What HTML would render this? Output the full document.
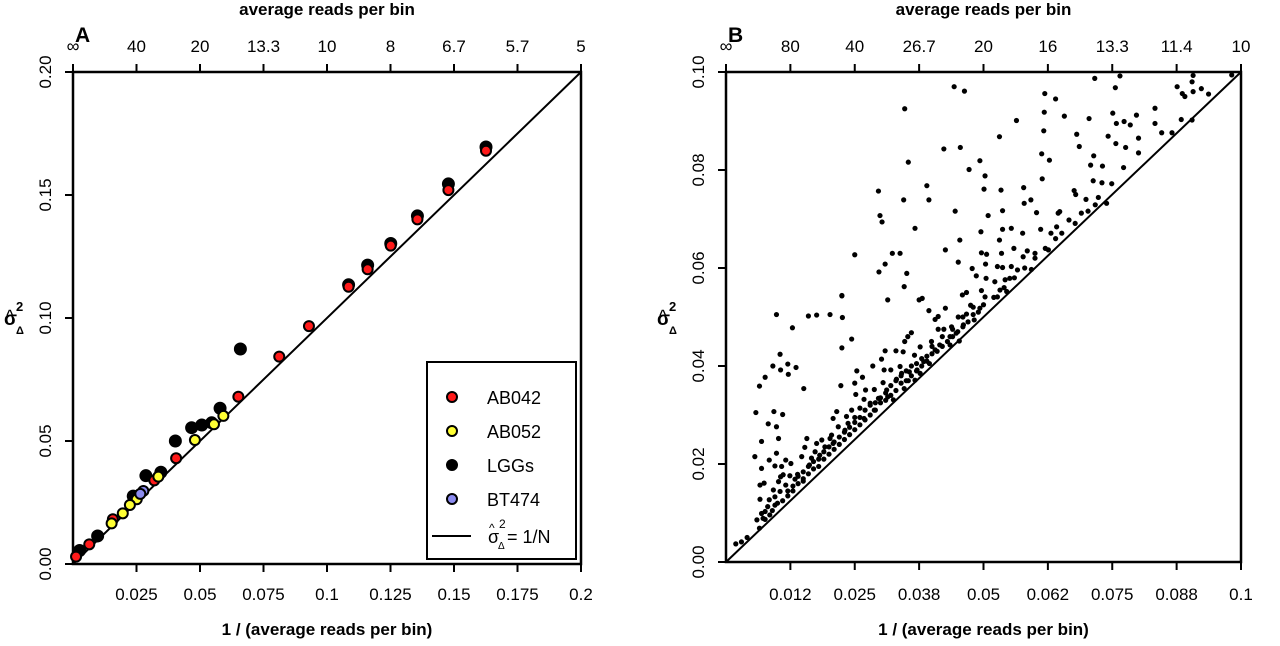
<!DOCTYPE html>
<html><head><meta charset="utf-8"><style>
html,body{margin:0;padding:0;background:#fff}
svg text{font-family:"Liberation Sans",Arial,sans-serif;fill:#000}
</style></head><body>
<svg id="chart" width="1280" height="641" viewBox="0 0 1280 641" xmlns="http://www.w3.org/2000/svg"></svg>
<script>
// Panel A data
const aTopLabels=["∞","40","20","13.3","10","8","6.7","5.7","5"];
const aXTicks=[0.025,0.05,0.075,0.1,0.125,0.15,0.175,0.2];
const aXTickLabels=["0.025","0.05","0.075","0.1","0.125","0.15","0.175","0.2"];
const aYTicks=[0,0.05,0.1,0.15,0.2];
const aYTickLabels=["0.00","0.05","0.10","0.15","0.20"];
const lggX=[0.1626,0.1478,0.1356,0.1251,0.116,0.1085,0.0659,0.0579,0.0467,0.0507,0.0546,0.0403,0.0287,0.0346,0.0097,0.0026,0.0237];
const lggY=[0.1695,0.1545,0.1415,0.1303,0.1215,0.1135,0.0874,0.0633,0.0554,0.0565,0.0574,0.05,0.0359,0.0373,0.0114,0.0055,0.0276];
const ab042X=[0.1626,0.1478,0.1356,0.1251,0.116,0.1085,0.0929,0.0812,0.0651,0.0406,0.0157,0.0064,0.0012,0.032];
const ab042Y=[0.168,0.152,0.1401,0.1294,0.1198,0.1127,0.0967,0.0843,0.068,0.043,0.0182,0.008,0.003,0.034];
const ab052X=[0.0592,0.0555,0.048,0.0336,0.0251,0.0224,0.0196,0.0152];
const ab052Y=[0.0602,0.0568,0.0504,0.0355,0.0263,0.024,0.0206,0.0165];
const bt474X=[0.0277,0.0265];
const bt474Y=[0.0297,0.0285];
// Panel B data
const bTopLabels=["∞","80","40","26.7","20","16","13.3","11.4","10"];
const bXTicks=[0.0125,0.025,0.0375,0.05,0.0625,0.075,0.0875,0.1];
const bXTickLabels=["0.012","0.025","0.038","0.05","0.062","0.075","0.088","0.1"];
const bYTicks=[0,0.02,0.04,0.06,0.08,0.1];
const bYTickLabels=["0.00","0.02","0.04","0.06","0.08","0.10"];
const bX=[.0443,.0463,.0347,.0354,.0423,.0455,.0472,.0493,.0503,.0501,.0531,.0564,.0619,.0640,.0618,.0617,.0613,.0628,.0614,.0657,.0681,.0686,.0705,.0716,.0756,.0765,.0714,.0708,.0731,.0713,.0730,.0751,.0758,.0773,.0785,.0797,.0742,.0757,.0776,.0801,.0801,.0772,.0749,.0833,.0833,.0846,.0866,.0884,.0876,.0886,.0891,.0905,.0907,.0907,.0923,.0937,.0905,.0982,.0739,.0723,.0699,.0679,.0676,.0690,.0703,.0717,.0678,.0666,.0648,.0645,.0642,.0652,.0631,.0626,.0600,.0603,.0592,.0578,.0579,.0611,.0576,.0585,.0577,.0559,.0554,.0537,.0534,.0537,.0531,.0535,.0527,.0537,.0554,.0566,.0593,.0542,.0551,.0522,.0532,.0545,.0527,.0509,.0495,.0496,.0506,.0504,.0505,.0486,.0478,.0454,.0451,.0445,.0426,.0367,.0394,.0390,.0345,.0296,.0299,.0303,.0250,.0323,.0338,.0309,.0297,.0351,.0346,.0225,.0314,.0375,.0381,.0394,.0406,.0426,.0412,.0467,.0459,.0496,.0503,.0493,.0475,.0467,.0482,.0451,.0461,.0438,.0447,.0435,.0423,.0412,.0399,.0406,.0415,.0435,.0453,.0377,.0390,.0384,.0395,.0366,.0353,.0347,.0360,.0330,.0344,.0309,.0302,.0307,.0285,.0320,.0338,.0341,.0356,.0371,.0377,.0254,.0265,.0250,.0244,.0225,.0223,.0252,.0271,.0288,.0305,.0312,.0331,.0346,.0354,.0367,.0296,.0314,.0325,.0280,.0268,.0288,.0260,.0244,.0234,.0250,.0268,.0215,.0208,.0237,.0231,.0218,.0205,.0186,.0176,.0192,.0202,.0208,.0173,.0182,.0166,.0157,.0153,.0147,.0162,.0150,.0139,.0134,.0124,.0126,.0116,.0108,.0111,.0102,.0116,.0092,.0105,.0095,.0084,.0095,.0081,.0076,.0085,.0069,.0072,.0060,.0065,.0076,.0066,.0066,.0074,.0069,.0056,.0084,.0069,.0098,.0095,.0106,.0082,.0102,.0098,.0093,.0110,.0058,.0065,.0076,.0091,.0106,.0105,.0120,.0121,.0136,.0129,.0151,.0098,.0160,.0176,.0202,.0226,.0225,.0019,.0030,.0041,
.009,.010,.011,.012,.013,.014,.015,.016,.017,.018,.019,.020,.021,.022,.023,.024,.025,.026,.027,.028,.029,.030,.031,.032,.033,.034,.035,.036,.037,.038,.039,.040,.041,.042,.043,.044,.045,.046,.047,.048,.049,.050,.052,.054,.056,.058,.060,.062,.064,
.012,.014,.016,.018,.020,.022,.024,.026,.028,.030,.032,.034,.036,.038,.040,.042,.044,.046,.048,.013,.015,.017,.019,.021,.023,.025,.027,.029,.031,.033,.035,.037];
const bY=[.0970,.0961,.0925,.0816,.0843,.0846,.0801,.0819,.0788,.0761,.0868,.0901,.0956,.0945,.0918,.0880,.0833,.0820,.0782,.0910,.0873,.0848,.0905,.0987,.0968,.0992,.0829,.0810,.0808,.0778,.0774,.0916,.0895,.0899,.0892,.0912,.0869,.0854,.0846,.0865,.0835,.0805,.0772,.0926,.0895,.0876,.0876,.0903,.0970,.0956,.0950,.0980,.0993,.0960,.0966,.0955,.0902,.0994,.0732,.0744,.0740,.0750,.0758,.0712,.0716,.0729,.0691,.0698,.0715,.0712,.0684,.0671,.0671,.0637,.0630,.0713,.0739,.0764,.0732,.0679,.0671,.0635,.0623,.0640,.0681,.0717,.0759,.0679,.0657,.0630,.0603,.0601,.0603,.0596,.0597,.0576,.0579,.0572,.0555,.0552,.0541,.0707,.0674,.0631,.0628,.0608,.0579,.0584,.0599,.0657,.0612,.0716,.0637,.0681,.0739,.0768,.0739,.0757,.0707,.0694,.0627,.0630,.0630,.0608,.0592,.0589,.0562,.0543,.0535,.0535,.0538,.0513,.0495,.0518,.0501,.0550,.0545,.0554,.0541,.0518,.0524,.0506,.0494,.0500,.0484,.0480,.0467,.0460,.0475,.0475,.0450,.0433,.0443,.0443,.0451,.0439,.0420,.0409,.0405,.0422,.0460,.0450,.0468,.0431,.0429,.0431,.0414,.0392,.0400,.0392,.0399,.0385,.0388,.0392,.0385,.0390,.0377,.0365,.0455,.0437,.0360,.0342,.0351,.0352,.0366,.0351,.0373,.0354,.0370,.0371,.0334,.0337,.0331,.0324,.0332,.0310,.0314,.0310,.0297,.0295,.0293,.0307,.0293,.0283,.0269,.0276,.0259,.0249,.0242,.0235,.0252,.0242,.0225,.0218,.0212,.0252,.0234,.0215,.0198,.0184,.0179,.0169,.0176,.0201,.0208,.0195,.0178,.0164,.0157,.0147,.0144,.0133,.0127,.0116,.0113,.0103,.0096,.0099,.0089,.0086,.0069,.0087,.0128,.0157,.0161,.0191,.0215,.0208,.0246,.0222,.0196,.0174,.0282,.0252,.0276,.0307,.0301,.0305,.0359,.0377,.0400,.0392,.0424,.0404,.0383,.0397,.0478,.0354,.0505,.0502,.0504,.0505,.0499,.0544,.0037,.0041,.0050,
.0105,.012,.0125,.0135,.0145,.016,.017,.018,.019,.0195,.021,.022,.023,.024,.025,.026,.027,.028,.029,.030,.031,.0325,.033,.034,.035,.0365,.037,.038,.039,.040,.041,.0425,.043,.044,.045,.046,.047,.048,.049,.0505,.051,.0525,.054,.056,.058,.060,.062,.064,.066,
.0145,.0175,.0195,.021,.0235,.0255,.0275,.0295,.032,.0335,.036,.038,.040,.0415,.044,.046,.0475,.050,.052,.0155,.0165,.0205,.0225,.0245,.0265,.0285,.031,.0325,.0345,.037,.039,.0405];

const NS="http://www.w3.org/2000/svg";
const svg=document.getElementById('chart');
function mk(tag,attrs,parent,text){const e=document.createElementNS(NS,tag);for(const k in attrs)e.setAttribute(k,attrs[k]);if(text!==undefined)e.textContent=text;(parent||svg).appendChild(e);return e;}

function panel(cfg){
  const g=mk('g',{});
  
  
  const sx=v=>cfg.x0+(v-0)/cfg.xmax*(cfg.x1-cfg.x0);
  const sy=v=>cfg.y0-(v/cfg.ymax)*(cfg.y0-cfg.y1);
  const ln=mk('line',{x1:sx(0),y1:sy(0),x2:sx(cfg.xmax),y2:sy(cfg.xmax),stroke:'#000','stroke-width':2},g);
  
  
  const fr=mk('rect',{x:cfg.x0,y:cfg.y1,width:cfg.x1-cfg.x0,height:cfg.y0-cfg.y1,fill:'none',stroke:'#000','stroke-width':2.5},g);
  
  
  cfg.xTicks.forEach((t,i)=>{
    mk('line',{x1:sx(t),x2:sx(t),y1:cfg.y0,y2:cfg.y0+8,stroke:'#000','stroke-width':2},g);
    const tl=mk('text',{x:sx(t),y:600,'text-anchor':'middle','font-size':17},g,cfg.xTickLabels[i]);
    
    
  });
  cfg.topLabels.forEach((l,i)=>{
    const t=i*cfg.xmax/8;
    mk('line',{x1:sx(t),x2:sx(t),y1:cfg.y1,y2:cfg.y1-8,stroke:'#000','stroke-width':2},g);
    const tl=mk('text',{x:sx(t),y:l==='∞'?52:52,'text-anchor':'middle','font-size':l==='∞'?18:17},g,l);
    
    
  });
  cfg.yTicks.forEach((t,i)=>{
    mk('line',{x1:cfg.x0,x2:cfg.x0-8,y1:sy(t),y2:sy(t),stroke:'#000','stroke-width':2},g);
    const tx=cfg.x0-22;
    const tl=mk('text',{x:tx,y:sy(t),'text-anchor':'middle','font-size':17,transform:`rotate(-90 ${tx} ${sy(t)})`},g,cfg.yTickLabels[i]);
    
    
  });
  const cx=(cfg.x0+cfg.x1)/2;
  const xt=mk('text',{x:cx,y:635,'text-anchor':'middle','font-size':17,'font-weight':'bold'},g,'1 / (average reads per bin)');
  
  
  const tt=mk('text',{x:cx,y:15,'text-anchor':'middle','font-size':17,'font-weight':'bold'},g,'average reads per bin');
  
  
  const pl=mk('text',{x:cfg.x0+2,y:42,'font-size':21,'font-weight':'bold'},g,cfg.letter);
  
  
  const yx=cfg.x0-69, yy=325;
  const yg=mk('g',{},g);
  
  
  mk('text',{x:yx,y:yy,'font-size':19,'font-weight':'bold'},yg,'σ');
  mk('text',{x:yx+2,y:yy-6,'font-size':13,'font-weight':'bold'},yg,'^');
  mk('text',{x:yx+12,y:yy-14,'font-size':13,'font-weight':'bold'},yg,'2');
  mk('text',{x:yx+12,y:yy+9,'font-size':11,'font-weight':'bold'},yg,'Δ');
  return {g,sx,sy};
}

const A=panel({name:'panel-a',letter:'A',x0:73,x1:581,y0:564,y1:72,xmax:0.2,ymax:0.2,xTicks:aXTicks,xTickLabels:aXTickLabels,yTicks:aYTicks,yTickLabels:aYTickLabels,topLabels:aTopLabels});
function series(P,xs,ys,fill,name,r){
  const sg=mk('g',{},P.g);
  
  
  xs.forEach((x,i)=>{
    const c=mk('circle',{cx:P.sx(x),cy:P.sy(ys[i]),r:r,fill:fill,stroke:'#000','stroke-width':r>3?2:0},sg);
    
    
  });
}
series(A,lggX,lggY,'#000','lgg',5.5);
series(A,ab042X,ab042Y,'#ff1a1a','ab042',5);
series(A,ab052X,ab052Y,'#ffff33','ab052',5);
series(A,bt474X,bt474Y,'#8c8cf0','bt474',5);
const lg=mk('g',{},A.g);


mk('rect',{x:427,y:362,width:149,height:197,fill:'#fff',stroke:'#000','stroke-width':2},lg);
const legItems=[['AB042','#ff1a1a'],['AB052','#ffff33'],['LGGs','#000'],['BT474','#8c8cf0']];
legItems.forEach((it,i)=>{
  const y=397+i*34;
  const e=mk('g',{},lg);
  
  
  mk('circle',{cx:452,cy:y,r:5,fill:it[1],stroke:'#000','stroke-width':2},e);
  mk('text',{x:487,y:y+7,'font-size':18},e,it[0]);
});
const le=mk('g',{},lg);


mk('line',{x1:432,x2:471,y1:536,y2:536,stroke:'#000','stroke-width':2},le);
mk('text',{x:488,y:543,'font-size':18},le,'σ');
mk('text',{x:489,y:532,'font-size':12},le,'^');
mk('text',{x:499,y:528,'font-size':12},le,'2');
mk('text',{x:498,y:549,'font-size':10},le,'Δ');
mk('text',{x:507,y:543,'font-size':18},le,'= 1/N');

const B=panel({name:'panel-b',letter:'B',x0:726,x1:1241,y0:562,y1:72,xmax:0.1,ymax:0.1,xTicks:bXTicks,xTickLabels:bXTickLabels,yTicks:bYTicks,yTickLabels:bYTickLabels,topLabels:bTopLabels});
series(B,bX,bY,'#000','sample',2.6);
</script>
</body></html>
